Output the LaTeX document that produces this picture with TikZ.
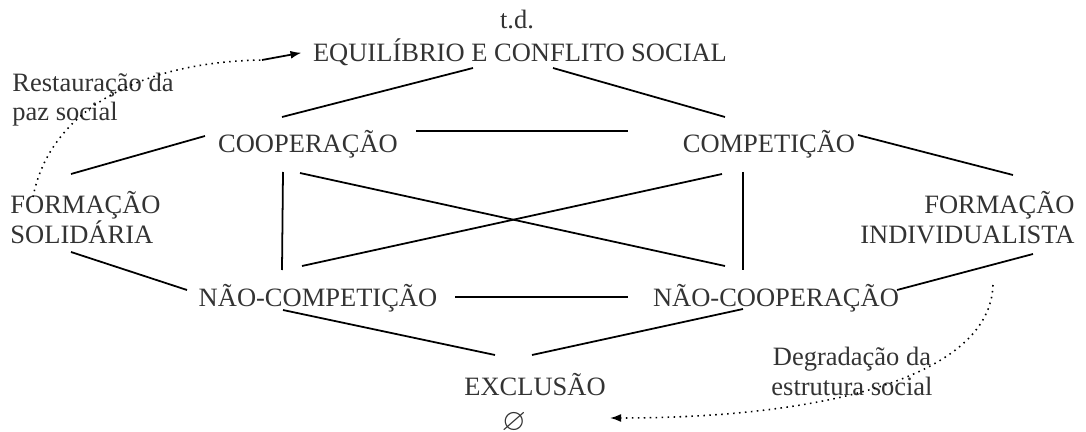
\documentclass[tikz,border=0pt]{standalone}
\usepackage{fontspec}
\usepackage{amssymb}
\setmainfont{Liberation Serif}
\usetikzlibrary{arrows.meta}

\begin{document}
\begin{tikzpicture}[x=0.4528pt, y=-0.4528pt,
    every node/.style={font=\fontsize{12}{13.4}\selectfont, text=black!80, inner sep=0pt},
    traco/.style={line width=0.8pt},
    seta/.style={dotted, line width=0.7pt}]
    \useasboundingbox (0,0) rectangle (1086,432);

    % Termos do hexagono
    \node[anchor=base] (td) at (517,29) {t.d.};
    \node[anchor=base] (equil) at (520,62) {EQUILÍBRIO E CONFLITO SOCIAL};
    \node[anchor=base] (coop) at (308,153) {COOPERAÇÃO};
    \node[anchor=base] (comp) at (769,153) {COMPETIÇÃO};
    \node[anchor=base west, align=left] (formsol) at (10,243) {FORMAÇÃO\\SOLIDÁRIA};
    \node[anchor=base east, align=right] (formind) at (1075,243) {FORMAÇÃO\\INDIVIDUALISTA};
    \node[anchor=base] (ncomp) at (318,307) {NÃO-COMPETIÇÃO};
    \node[anchor=base] (ncoop) at (776,307) {NÃO-COOPERAÇÃO};
    \node[anchor=base] (excl) at (535,395) {EXCLUSÃO};
    \node[font=\fontsize{14}{14}\selectfont] (vazio) at (514,423) {$\varnothing$};

    % Legendas das setas
    \node[anchor=base west, align=left] (rest) at (12,121) {Restauração da\\paz social};
    \node[anchor=base, align=center] (degr) at (852,395) {Degradação da\\estrutura social};

    % Relacoes
    \draw[traco] ([shift={(-26,-36)}]coop.base) -- ([shift={(-47,6)}]equil.base);
    \draw[traco] ([shift={(33,6)}]equil.base) -- ([shift={(-44,-36)}]comp.base);
    \draw[traco] ([shift={(61,-69)}]formsol.base west) -- ([shift={(-103,-17)}]coop.base);
    \draw[traco] ([shift={(108,-22)}]coop.base) -- ([shift={(-141,-22)}]comp.base);
    \draw[traco] ([shift={(89,-18)}]comp.base) -- ([shift={(-62,-68)}]formind.base east);
    \draw[traco] ([shift={(-25,19)}]coop.base) -- ([shift={(-36,-37)}]ncomp.base);
    \draw[traco] ([shift={(-26,19)}]comp.base) -- ([shift={(-33,-37)}]ncoop.base);
    \draw[traco] ([shift={(-8,20)}]coop.base) -- ([shift={(-51,-41)}]ncoop.base);
    \draw[traco] ([shift={(-47,21)}]comp.base) -- ([shift={(-16,-41)}]ncomp.base);
    \draw[traco] ([shift={(61,9)}]formsol.base west) -- ([shift={(-131,-17)}]ncomp.base);
    \draw[traco] ([shift={(137,-10)}]ncomp.base) -- ([shift={(-148,-10)}]ncoop.base);
    \draw[traco] ([shift={(121,-17)}]ncoop.base) -- ([shift={(-42,11)}]formind.base east);
    \draw[traco] ([shift={(-35,3)}]ncomp.base) -- ([shift={(-40,-40)}]excl.base);
    \draw[traco] ([shift={(-3,-40)}]excl.base) -- ([shift={(-33,2)}]ncoop.base);

    % Setas pontilhadas
    \coordinate (restfim) at (262,60);
    \draw[seta] ([shift={(23,-46)}]formsol.base west) .. controls (50,110) and (140,62) .. (restfim);
    \draw[line width=0.8pt, -{Latex[length=5pt,width=3.6pt]}] (restfim) -- ([xshift=-5pt]equil.west);
    \coordinate (degrfim) at (610,418);
    \draw[seta, -{Latex[length=5pt,width=3.6pt]}] ([shift={(-82,42)}]formind.base east) .. controls (990,375) and (830,418) .. (degrfim);

\end{tikzpicture}
\end{document}
